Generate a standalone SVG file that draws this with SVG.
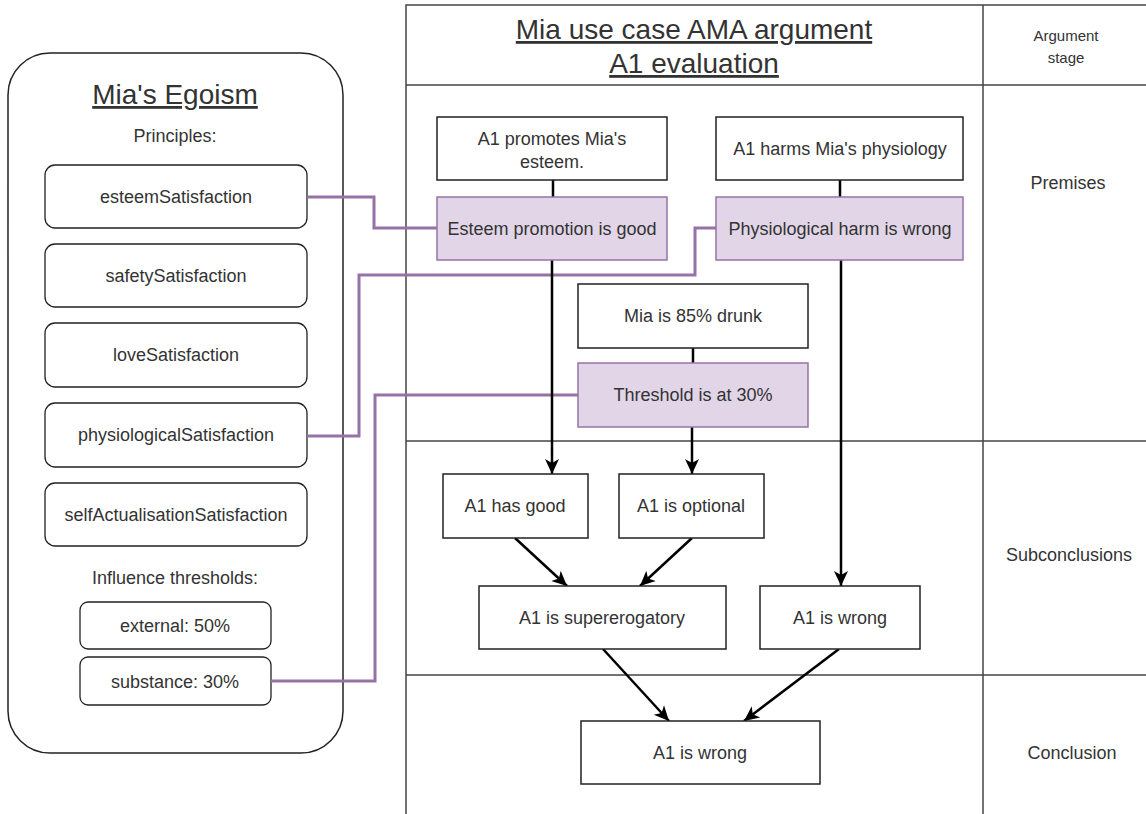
<svg xmlns="http://www.w3.org/2000/svg" width="1146" height="814" viewBox="0 0 1146 814">
<defs>
<style>
text{font-family:"Liberation Sans",Arial,sans-serif;fill:#333;text-anchor:middle}
.t18{font-size:18px}
.t15{font-size:15px}
.title{font-size:28px;text-decoration:underline}
.box{fill:#fff;stroke:#222;stroke-width:1.5}
.rbox{fill:#fff;stroke:#222;stroke-width:1.3}
.pbox{fill:#e1d5e7;stroke:#9673a6;stroke-width:1.5}
.grid{stroke:#444;stroke-width:1.5;fill:none}
.plink{fill:none;stroke:#9673a6;stroke-width:3}
.blink{fill:none;stroke:#000;stroke-width:2.5}
</style>
<marker id="arr" markerUnits="userSpaceOnUse" markerWidth="16" markerHeight="16" viewBox="0 0 16 16" refX="15" refY="8" orient="auto">
<path d="M0,1 L15,8 L0,15 L4,8 z" fill="#000"/>
</marker>
</defs>

<g id="table">
<path class="grid" d="M406,814 V5 H1146 M406,85 H1146 M983,5 V814 M406,441 H1146 M406,675 H1146"/>
<text class="title" x="694" y="39">Mia use case AMA argument</text>
<text class="title" x="694" y="73">A1 evaluation</text>
<text class="t15" x="1066" y="41">Argument</text>
<text class="t15" x="1066" y="63">stage</text>
<text class="t18" x="1068" y="189">Premises</text>
<text class="t18" x="1069" y="561">Subconclusions</text>
<text class="t18" x="1072" y="759">Conclusion</text>
</g>

<g id="egoism">
<rect x="8" y="53" width="335" height="700" rx="42" ry="42" fill="#fff" stroke="#222" stroke-width="1.5"/>
<text x="175" y="104" style="font-size:28px;text-decoration:underline">Mia's Egoism</text>
<text class="t18" x="175" y="142">Principles:</text>
<text class="t18" x="175" y="584">Influence thresholds:</text>
</g>
<g id="p-esteem"><rect class="rbox" x="45" y="165" width="262" height="63" rx="10"/><text class="t18" x="176" y="203">esteemSatisfaction</text></g>
<g id="p-safety"><rect class="rbox" x="45" y="244" width="262" height="63" rx="10"/><text class="t18" x="176" y="282">safetySatisfaction</text></g>
<g id="p-love"><rect class="rbox" x="45" y="323" width="262" height="64" rx="10"/><text class="t18" x="176" y="361">loveSatisfaction</text></g>
<g id="p-physio"><rect class="rbox" x="45" y="403" width="262" height="64" rx="10"/><text class="t18" x="176" y="441">physiologicalSatisfaction</text></g>
<g id="p-self"><rect class="rbox" x="45" y="483" width="262" height="63" rx="10"/><text class="t18" x="176" y="521">selfActualisationSatisfaction</text></g>
<g id="t-external"><rect class="rbox" x="80" y="602" width="191" height="47" rx="8"/><text class="t18" x="175" y="632">external: 50%</text></g>
<g id="t-substance"><rect class="rbox" x="80" y="657" width="191" height="48" rx="8"/><text class="t18" x="175" y="688">substance: 30%</text></g>

<g id="connectors">
<path class="plink" d="M307,197 H374 V228 H437"/>
<path class="plink" d="M307,436 H359 V275 H695 V228 H716"/>
<path class="plink" d="M271,681 H375 V395 H578"/>
<path class="blink" d="M553,180 V197"/>
<path class="blink" d="M552,260 V474" marker-end="url(#arr)"/>
<path class="blink" d="M840,180 V197"/>
<path class="blink" d="M841,260 V586" marker-end="url(#arr)"/>
<path class="blink" d="M693,348 V363"/>
<path class="blink" d="M692,427 V474" marker-end="url(#arr)"/>
<path class="blink" d="M515,538 L567,586" marker-end="url(#arr)"/>
<path class="blink" d="M692,538 L640,586" marker-end="url(#arr)"/>
<path class="blink" d="M603,649 L669,721" marker-end="url(#arr)"/>
<path class="blink" d="M839,649 L744,721" marker-end="url(#arr)"/>
</g>

<g id="n-promotes"><rect class="box" x="437" y="117" width="230" height="63"/><text class="t18" x="552" y="145">A1 promotes Mia's</text><text class="t18" x="552" y="168">esteem.</text></g>
<g id="n-esteem-good"><rect class="pbox" x="437" y="197" width="230" height="63"/><text class="t18" x="552" y="235">Esteem promotion is good</text></g>
<g id="n-harms"><rect class="box" x="716" y="117" width="247" height="63"/><text class="t18" x="840" y="155">A1 harms Mia's physiology</text></g>
<g id="n-physio-wrong"><rect class="pbox" x="716" y="197" width="247" height="63"/><text class="t18" x="840" y="235">Physiological harm is wrong</text></g>
<g id="n-drunk"><rect class="box" x="578" y="284" width="230" height="64"/><text class="t18" x="693" y="322">Mia is 85% drunk</text></g>
<g id="n-threshold"><rect class="pbox" x="578" y="363" width="230" height="64"/><text class="t18" x="693" y="401">Threshold is at 30%</text></g>
<g id="n-good"><rect class="box" x="443" y="474" width="145" height="64"/><text class="t18" x="515" y="512">A1 has good</text></g>
<g id="n-optional"><rect class="box" x="619" y="474" width="145" height="64"/><text class="t18" x="691" y="512">A1 is optional</text></g>
<g id="n-super"><rect class="box" x="479" y="586" width="247" height="63"/><text class="t18" x="602" y="624">A1 is supererogatory</text></g>
<g id="n-wrong-sub"><rect class="box" x="760" y="586" width="160" height="63"/><text class="t18" x="840" y="624">A1 is wrong</text></g>
<g id="n-wrong-final"><rect class="box" x="581" y="721" width="239" height="63"/><text class="t18" x="700" y="759">A1 is wrong</text></g>
</svg>
